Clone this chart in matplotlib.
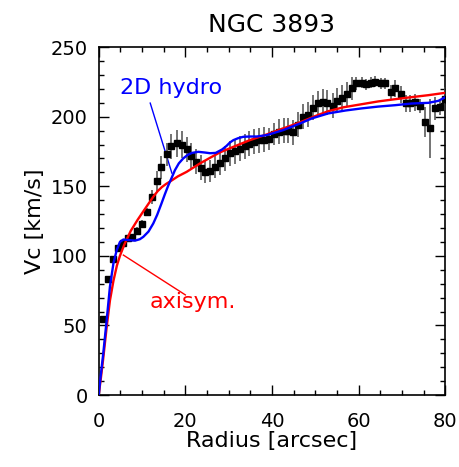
import matplotlib
matplotlib.use("Agg")
import matplotlib.pyplot as plt
from matplotlib.ticker import MultipleLocator

# observed rotation curve (arcsec, km/s)
radius = [1.06, 2.2, 3.4, 4.5, 5.7, 6.8, 7.8, 8.9, 10.1, 11.1, 12.2, 13.4,
          14.5, 15.7, 16.8, 18.0, 19.2, 20.3, 21.3, 22.5, 23.6, 24.6, 25.8,
          26.9, 28.1, 29.2, 30.3, 31.5, 32.6, 33.8, 34.8, 35.9, 37.0, 38.1,
          39.3, 40.5, 41.6, 42.7, 43.8, 44.9, 46.1, 47.2, 48.3, 49.4, 50.6,
          51.7, 52.8, 54.0, 55.1, 56.2, 57.3, 58.4, 59.5, 60.7, 61.8, 62.8,
          63.9, 65.2, 66.2, 67.4, 68.5, 69.7, 70.9, 71.8, 73.0, 74.2, 75.3,
          76.5, 77.6, 78.8, 79.9]
vc = [54.4, 83.1, 97.5, 105.8, 109.4, 112.6, 113.7, 117.8, 123.1, 131.7,
      142.5, 153.7, 163.6, 172.9, 178.9, 180.8, 180.0, 176.7, 171.8, 167.7,
      163.4, 160.6, 161.1, 164.0, 167.0, 170.3, 173.6, 175.3, 176.9, 178.9,
      180.7, 182.1, 183.2, 183.5, 184.1, 187.4, 189.1, 189.8, 189.8, 188.7,
      194.2, 199.9, 201.6, 206.4, 209.6, 210.7, 209.9, 207.8, 211.4, 213.7,
      216.0, 220.3, 223.9, 224.6, 223.4, 224.6, 225.1, 223.9, 223.9, 217.9,
      220.3, 216.0, 209.6, 209.6, 210.3, 207.8, 196.3, 191.6, 206.0, 207.1,
      213.1]
vc_err = [2, 2, 2, 2, 2, 2, 2, 3, 3, 3, 5, 7, 8, 8, 9, 10, 10, 9, 9, 9,
          9, 8, 8, 8, 9, 9, 9, 9, 9, 9, 9, 9, 9, 9, 8, 8, 9, 9, 9, 9,
          9, 9, 9, 9, 9, 9, 9, 9, 9, 9, 9, 8, 5, 4, 4, 4, 4, 4, 4, 5,
          6, 6, 6, 6, 6, 5, 11, 21, 8, 6, 8]

# model curves
r_axi = [0, 0.5, 1.0, 1.85, 2.6, 3.4, 4.2, 4.9, 5.9, 7.4, 9.0, 10.3,
         11.5, 12.6, 13.6, 14.6, 15.6, 16.5, 18.3, 20.3, 23.4, 25.7, 28.0,
         31.1, 34.9, 38.8, 42.6, 46.5, 50.0, 53.0, 56.5, 60.7, 64.5, 68.4,
         72.0, 76.1, 80]
v_axi = [0, 12, 25, 49, 68, 82, 93, 100, 108, 118, 126, 132, 137.5, 142.5,
         146.5, 149.5, 151.8, 153.5, 157.2, 160.4, 166.5, 170.5, 174.4,
         178.4, 183.2, 187.3, 191.6, 196, 200.5, 204, 206.8, 209, 211,
         212.6, 214, 215.5, 217.2]

r_hydro = [0, 0.4, 1.06, 1.85, 2.6, 3.4, 4.15, 4.9, 5.7, 6.8, 8.4, 9.5,
           10.3, 11.5, 12.6, 13.5, 14.5, 15.3, 16.1, 16.9, 17.6, 18.5,
           19.5, 20.5, 21.5, 23.0, 24.5, 25.7, 27.0, 28.5, 29.5, 30.3,
           31.1, 32.2, 33.4, 35.0, 36.5, 38.8, 42.6, 46.5, 49.2, 53.0,
           57.0, 60.7, 64.5, 68.4, 72.2, 76.1, 78.4, 80]
v_hydro = [0, 12, 30, 54, 78, 94.6, 104, 110, 111.8, 111.4, 111, 112,
           113.7, 117.5, 123.3, 129.5, 137.7, 144.5, 150.9, 156.5, 161.6,
           166.5, 170, 172.5, 174, 174.8, 174.3, 173.8, 174, 176.5, 179,
           181.5, 183.2, 184.6, 185.6, 185.8, 185.8, 186.8, 190.4, 195.2,
           198.8, 202.4, 204.5, 206, 207.3, 208.3, 209.5, 210, 211.4, 214]

fig = plt.figure(figsize=(4.59, 4.67), dpi=100)
ax = fig.add_axes([0.215, 0.154, 0.755, 0.745])

ax.errorbar(radius, vc, yerr=vc_err, fmt="s", color="black",
            ecolor="0.3", elinewidth=1.1, markersize=4.3, capsize=0,
            zorder=3)
ax.plot(r_axi, v_axi, color="#ff0000", lw=1.7, zorder=4)
ax.plot(r_hydro, v_hydro, color="#0000ff", lw=1.7, zorder=5)

# labels with pointer lines
ax.text(4.9, 220.5, "2D hydro", color="#0000ff", fontsize=16, va="center")
ax.plot([11.9, 16.9], [209.8, 159.5], color="#0000ff", lw=1)
ax.text(11.8, 66.8, "axisym.", color="#ff0000", fontsize=16, va="center")
ax.plot([5.7, 20.0], [100.6, 72.0], color="#ff0000", lw=1)

ax.set_xlim(0, 80)
ax.set_ylim(0, 250)
ax.xaxis.set_major_locator(MultipleLocator(20))
ax.xaxis.set_minor_locator(MultipleLocator(5))
ax.yaxis.set_major_locator(MultipleLocator(50))
ax.yaxis.set_minor_locator(MultipleLocator(10))
ax.tick_params(which="both", direction="in", top=True, right=True,
               labelsize=14, width=1)
ax.tick_params(which="major", length=7)
ax.tick_params(which="minor", length=3.5)
ax.tick_params(axis="x", pad=12)
ax.tick_params(axis="y", pad=8)
for s in ax.spines.values():
    s.set_linewidth(1.2)

ax.set_xlabel("Radius [arcsec]", fontsize=16, labelpad=0)
ax.set_ylabel("Vc [km/s]", fontsize=16, labelpad=4)
ax.set_title("NGC 3893", fontsize=18, pad=11)

fig.savefig("out.png", dpi=100)
